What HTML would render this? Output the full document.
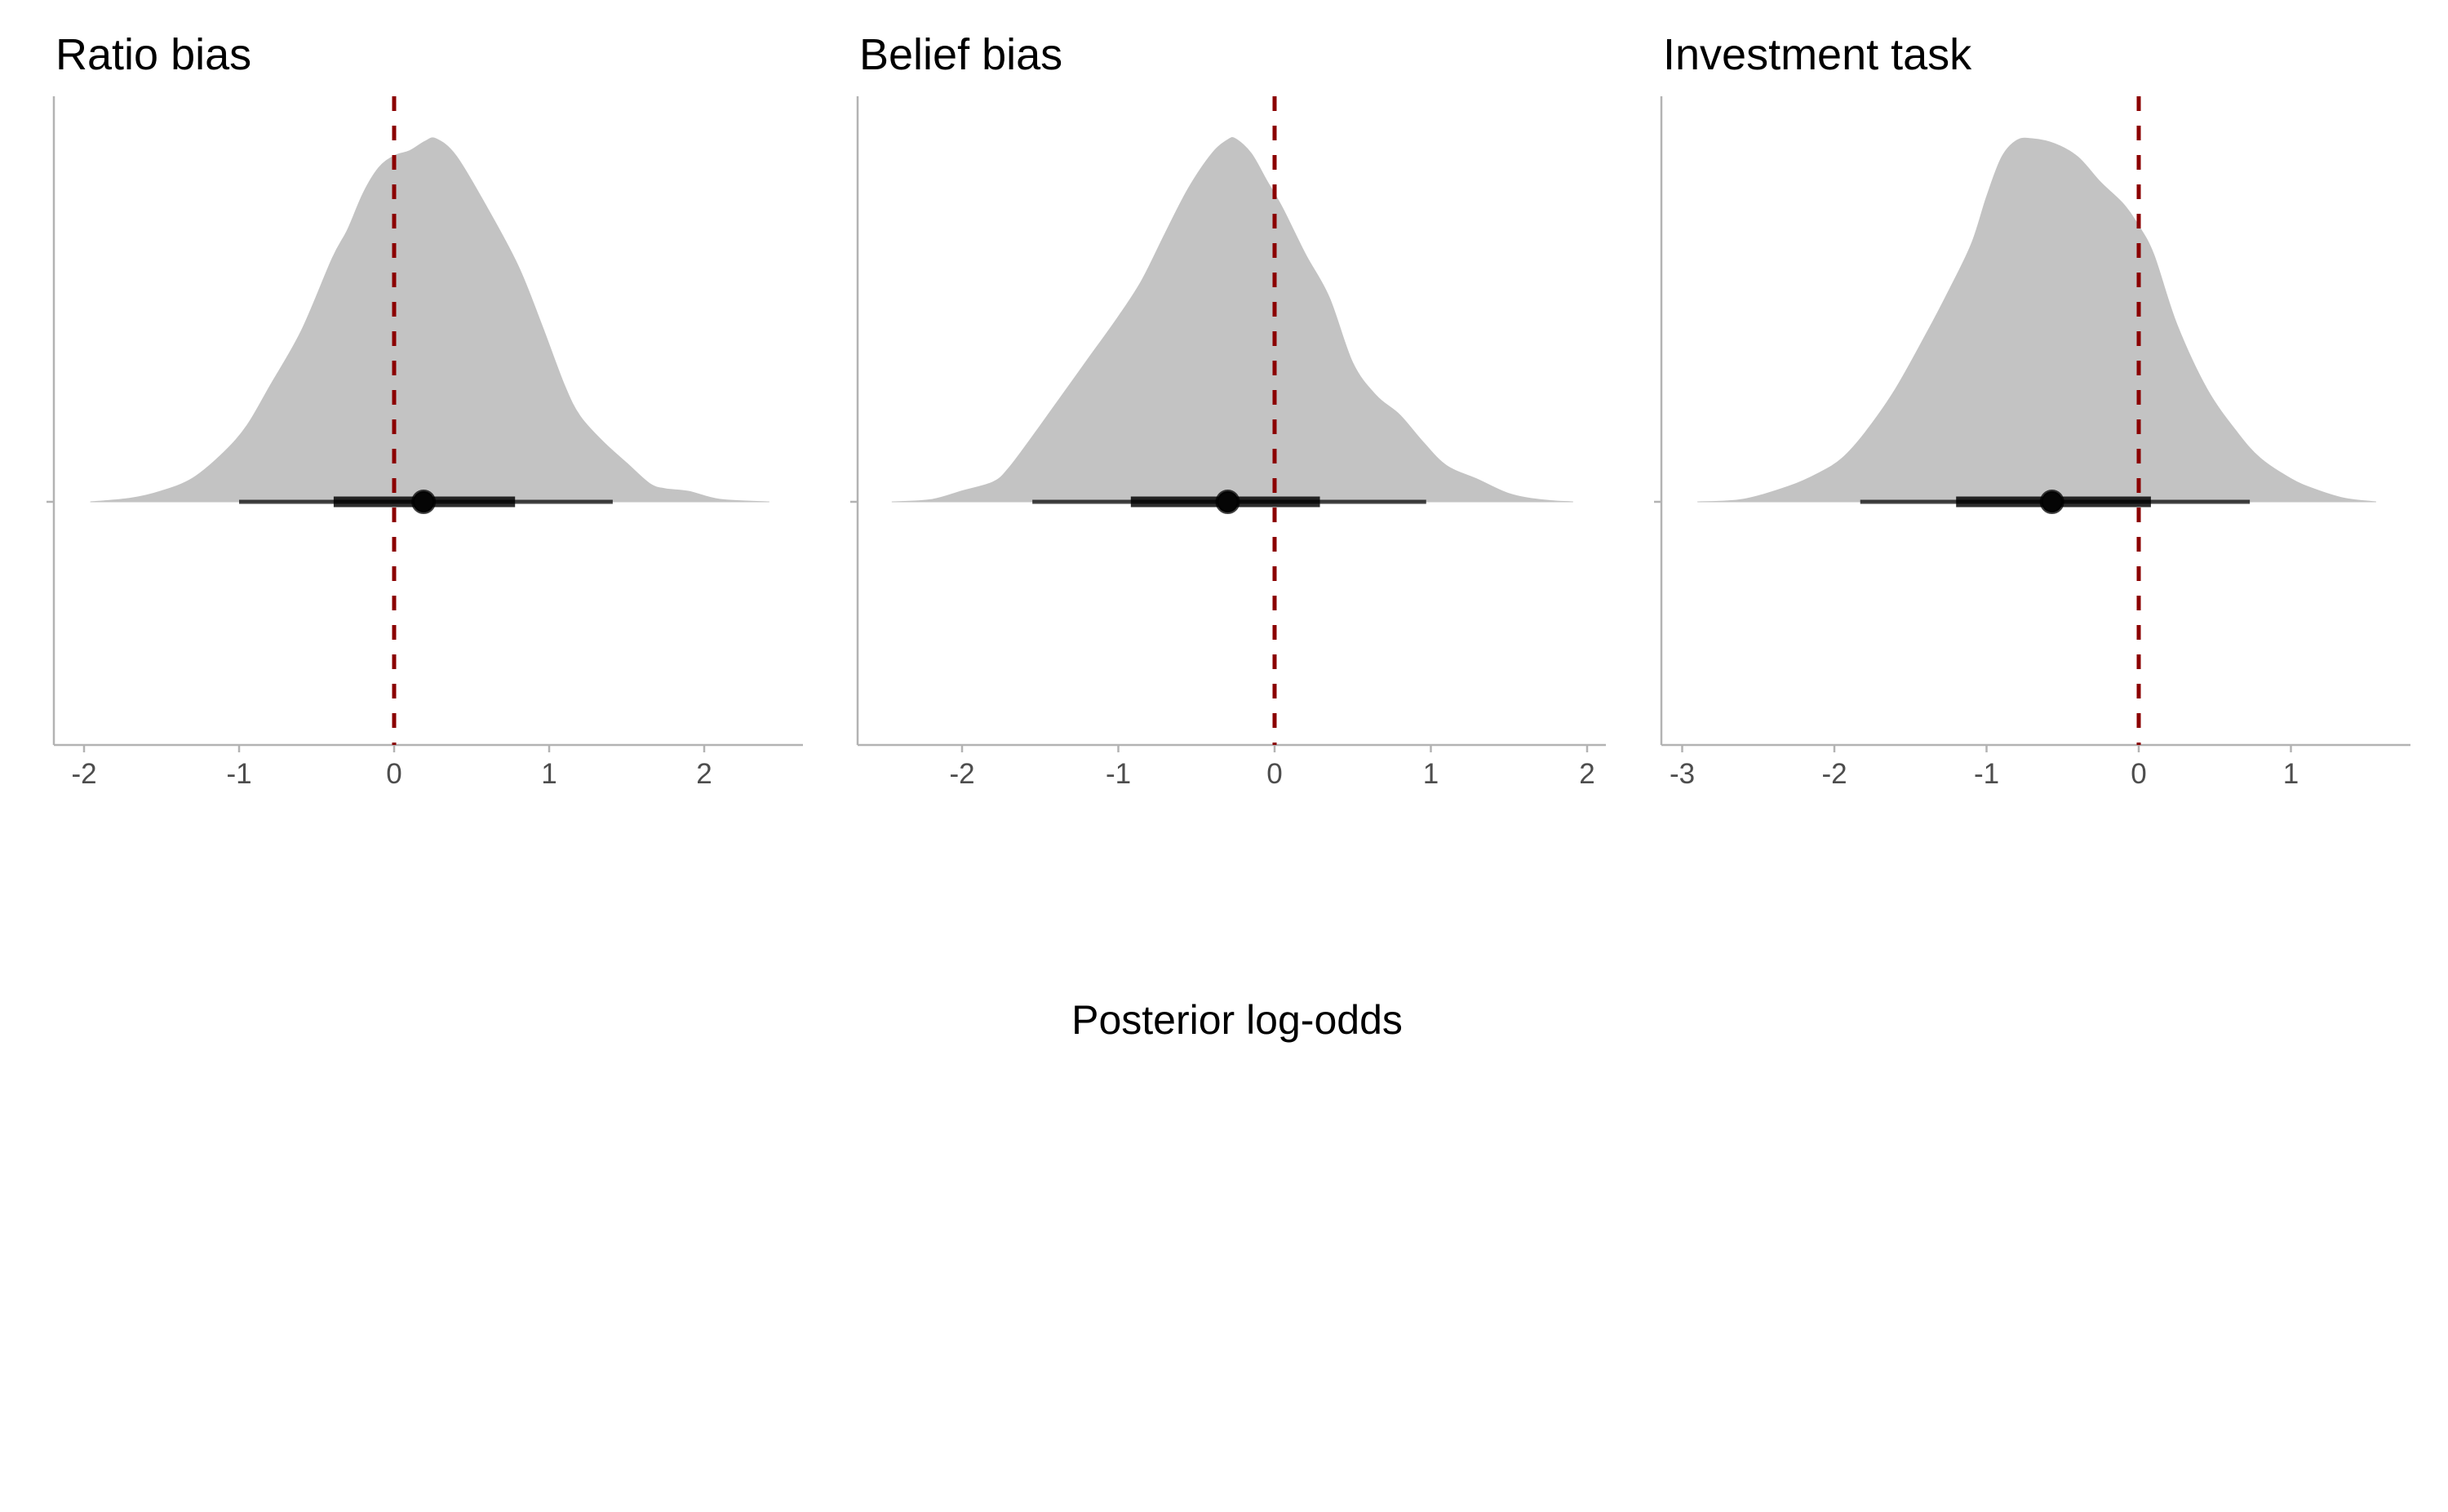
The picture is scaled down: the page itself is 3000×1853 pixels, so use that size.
<!DOCTYPE html>
<html><head><meta charset="utf-8"><style>
html,body{margin:0;padding:0;background:#fff;}
svg{display:block;}
</style></head><body>
<svg id="chart" width="3000" height="1853" viewBox="0 0 3000 1853" xmlns="http://www.w3.org/2000/svg" font-family="Liberation Sans, Arial, sans-serif">
<rect width="3000" height="1853" fill="#fff"/>
<text x="1516" y="1267" font-size="50" text-anchor="middle" fill="#000">Posterior log-odds</text>
</svg>
<script>
const panelTitles = ["Ratio bias", "Belief bias", "Investment task"];
const ticks1 = [-2, -1, 0, 1, 2];
const ticks2 = [-2, -1, 0, 1, 2];
const ticks3 = [-3, -2, -1, 0, 1];
const densX1 = [-1.96,-1.7,-1.5,-1.3,-1.1,-0.95,-0.8,-0.6,-0.4,-0.3,-0.2,-0.1,0,0.1,0.2,0.27,0.4,0.6,0.8,0.95,1.1,1.2,1.35,1.5,1.65,1.75,1.9,2.1,2.42];
const densY1 = [0,0.01,0.03,0.065,0.136,0.21,0.32,0.47,0.67,0.75,0.85,0.92,0.953,0.967,0.993,1,0.953,0.81,0.65,0.49,0.32,0.236,0.165,0.107,0.05,0.036,0.029,0.007,0];
const densX2 = [-2.45,-2.2,-2.0,-1.8,-1.7,-1.55,-1.4,-1.2,-1.0,-0.85,-0.7,-0.55,-0.4,-0.3,-0.25,-0.15,-0.05,0.05,0.2,0.35,0.5,0.65,0.8,0.95,1.1,1.3,1.5,1.7,1.91];
const densY2 = [0,0.006,0.03,0.055,0.094,0.18,0.27,0.39,0.51,0.61,0.74,0.865,0.96,0.997,1,0.96,0.885,0.81,0.68,0.563,0.383,0.293,0.24,0.165,0.1,0.062,0.023,0.006,0];
const densX3 = [-2.9,-2.6,-2.3,-2.1,-1.95,-1.8,-1.6,-1.4,-1.25,-1.1,-1.0,-0.9,-0.8,-0.7,-0.55,-0.4,-0.25,-0.1,0,0.1,0.25,0.45,0.65,0.8,1.0,1.15,1.35,1.56];
const densY3 = [0,0.007,0.043,0.08,0.12,0.19,0.31,0.46,0.58,0.71,0.84,0.95,0.996,1,0.986,0.95,0.88,0.82,0.76,0.68,0.49,0.31,0.19,0.12,0.064,0.036,0.01,0];
const thinLo = [-1.0, -1.55, -1.83];
const thinHi = [1.41, 0.97, 0.73];
const thickLo = [-0.39, -0.92, -1.2];
const thickHi = [0.78, 0.29, 0.08];
const pointEst = [0.19, -0.30, -0.57];
const refValue = 0;

const svg = document.getElementById('chart');
const NS = 'http://www.w3.org/2000/svg';
const layout = [
  {left:66, right:984, zero:483, unit:190},
  {left:1051, right:1968, zero:1562, unit:191.5},
  {left:2036, right:2954, zero:2621, unit:186.5}
];
const densXs = [densX1, densX2, densX3];
const densYs = [densY1, densY2, densY3];
const tickSets = [ticks1, ticks2, ticks3];
const TOP = 118, BOTTOM = 913, BASE = 615, PEAK = 170;

function mk(tag, attrs, parent){
  const e = document.createElementNS(NS, tag);
  for (const k in attrs) e.setAttribute(k, attrs[k]);
  (parent||svg).appendChild(e);
  return e;
}
function smoothPath(pts){
  let d = 'M' + pts[0][0] + ',' + pts[0][1];
  for (let i=0;i<pts.length-1;i++){
    const p0 = pts[Math.max(0,i-1)], p1 = pts[i], p2 = pts[i+1], p3 = pts[Math.min(pts.length-1,i+2)];
    const c1x = p1[0] + (p2[0]-p0[0])/6, c1y = p1[1] + (p2[1]-p0[1])/6;
    const c2x = p2[0] - (p3[0]-p1[0])/6, c2y = p2[1] - (p3[1]-p1[1])/6;
    d += ' C' + c1x.toFixed(1) + ',' + c1y.toFixed(1) + ' ' + c2x.toFixed(1) + ',' + c2y.toFixed(1) + ' ' + p2[0].toFixed(1) + ',' + p2[1].toFixed(1);
  }
  return d;
}

for (let p=0;p<3;p++){
  const L = layout[p];
  const xs = v => L.zero + v*L.unit;
  const ys = f => BASE - f*(BASE-PEAK);
  const g = mk('g', {});
  
  

  const title = mk('text', {x:L.left+2, y:85, 'font-size':54, fill:'#000'}, g);
  title.textContent = panelTitles[p];
  
  

  const pts = densXs[p].map((v,i)=>[xs(v), ys(densYs[p][i])]);
  const d = smoothPath(pts) + ' L' + xs(densXs[p][densXs[p].length-1]) + ',' + BASE + ' L' + xs(densXs[p][0]) + ',' + BASE + ' Z';
  const dens = mk('path', {d:d, fill:'#c3c3c3', stroke:'#c3c3c3', 'stroke-width':1}, g);
  
  

  const yax = mk('line', {x1:L.left, y1:TOP, x2:L.left, y2:BOTTOM, stroke:'#b3b3b3', 'stroke-width':2.5}, g);
  
  
  const ytick = mk('line', {x1:L.left-9, y1:BASE, x2:L.left, y2:BASE, stroke:'#b3b3b3', 'stroke-width':2.5}, g);
  
  
  const xax = mk('line', {x1:L.left, y1:BOTTOM, x2:L.right, y2:BOTTOM, stroke:'#b3b3b3', 'stroke-width':2.5}, g);
  
  
  tickSets[p].forEach(t=>{
    const tk = mk('line', {x1:xs(t), y1:BOTTOM, x2:xs(t), y2:BOTTOM+9, stroke:'#b3b3b3', 'stroke-width':2.5}, g);
    
    
    const lb = mk('text', {x:xs(t), y:960, 'font-size':35, fill:'#4d4d4d', 'text-anchor':'middle'}, g);
    lb.textContent = String(t);
    
    
  });

  const thin = mk('line', {x1:xs(thinLo[p]), y1:BASE, x2:xs(thinHi[p]), y2:BASE, stroke:'rgba(0,0,0,0.72)', 'stroke-width':5}, g);
  
  
  const thick = mk('line', {x1:xs(thickLo[p]), y1:BASE, x2:xs(thickHi[p]), y2:BASE, stroke:'rgba(0,0,0,0.82)', 'stroke-width':13}, g);
  
  
  const pt = mk('circle', {cx:xs(pointEst[p]), cy:BASE, r:13, fill:'#050505', stroke:'rgba(0,0,0,0.75)', 'stroke-width':4}, g);
  
  

  const ref = mk('line', {x1:xs(refValue), y1:TOP, x2:xs(refValue), y2:BOTTOM, stroke:'#8b0000', 'stroke-width':5, 'stroke-dasharray':'18 18'}, g);
  
  
}
</script>
</body></html>
